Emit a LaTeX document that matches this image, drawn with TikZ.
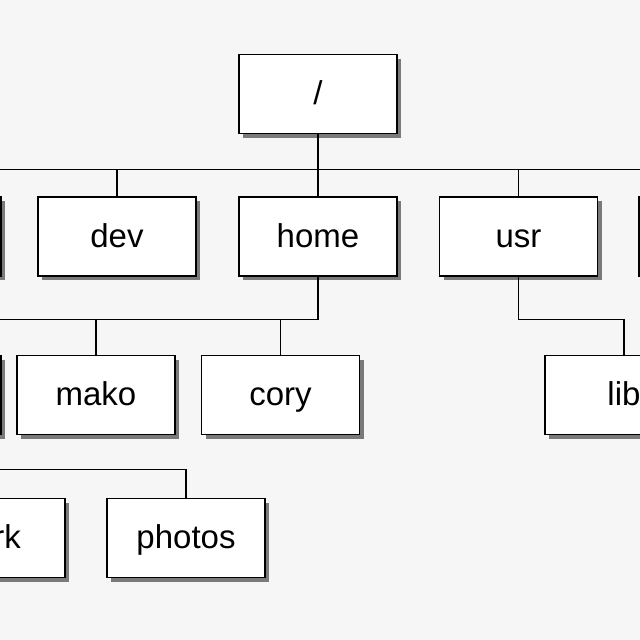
\documentclass[tikz,border=0pt]{standalone}
\usepackage{fontspec}
\setmainfont{Liberation Sans}
\usetikzlibrary{shadows}
\definecolor{bg}{HTML}{F6F6F6}
\definecolor{shade}{HTML}{7A7A7A}
\begin{document}
\begin{tikzpicture}[x=1pt,y=-1pt,
  dirbox/.style={draw=black, line width=1.4pt, fill=white, minimum width=158pt,
    minimum height=79pt, inner sep=0pt, text height=24pt, text depth=3pt,
    font=\fontsize{33}{38}\selectfont,
    drop shadow={shadow xshift=4pt, shadow yshift=-4pt, fill=shade, opacity=1}},
  link/.style={draw=black, line width=1.2pt}]
\useasboundingbox (0,0) rectangle (640,640);
\clip (0,0) rectangle (640,640);
\fill[bg] (0,0) rectangle (640,640);
% level 0
\node[dirbox] (root) at (318,94) {/};
% level 1
\node[dirbox] (bin) at (-78,236.5) {};
\node[dirbox] (dev) at (117,236.5) {dev};
\node[dirbox] (home) at (318,236.5) {home};
\node[dirbox] (usr) at (518.5,236.5) {usr};
\node[dirbox] (etc) at (718,236.5) {};
% level 2
\node[dirbox] (ast) at (-78,395) {};
\node[dirbox] (mako) at (96,395) {mako};
\node[dirbox] (cory) at (280.5,395) {cory};
\node[dirbox] (lib) at (624,395) {lib};
% level 3
\node[dirbox] (work) at (-14,538) {work};
\node[dirbox] (photos) at (186,538) {photos};
% connectors
\foreach \c in {bin,dev,home,usr,etc}
  \draw[link] (root.south) -- ++(0,35) -| (\c.north);
\foreach \c in {ast,mako,cory}
  \draw[link] (home.south) -- ++(0,43) -| (\c.north);
\draw[link] (usr.south) -- ++(0,43) -| (lib.north);
\foreach \c in {work,photos}
  \draw[link] (ast.south) -- ++(0,34.5) -| (\c.north);
\end{tikzpicture}
\end{document}
